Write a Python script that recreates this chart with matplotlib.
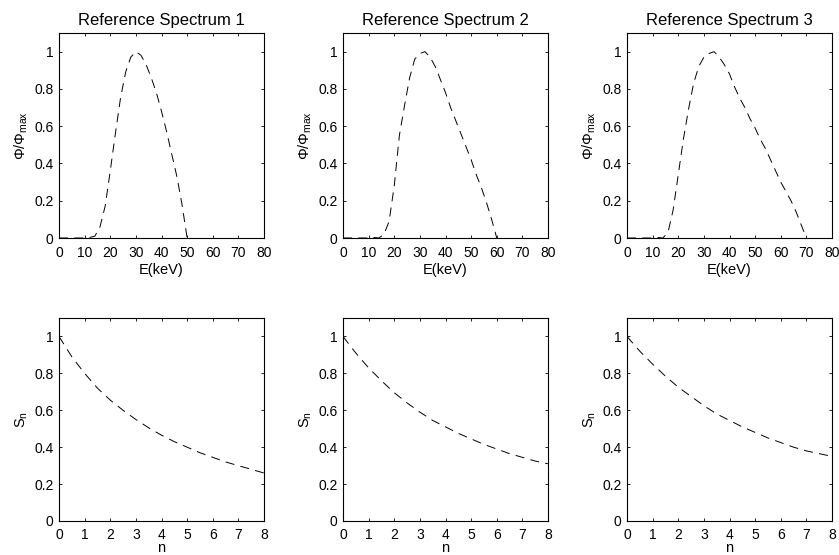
#!/usr/bin/env python3

import matplotlib
matplotlib.use('Agg')
import matplotlib.pyplot as plt
import numpy as np

plt.rcParams['font.family'] = ['Liberation Sans', 'DejaVu Sans']
plt.rcParams['mathtext.fontset'] = 'custom'
plt.rcParams['mathtext.rm'] = 'Liberation Sans'
plt.rcParams['mathtext.it'] = 'Liberation Sans'
plt.rcParams['lines.scale_dashes'] = False

titles = ['Reference Spectrum 1', 'Reference Spectrum 2', 'Reference Spectrum 3']

# spectra (E in keV, normalised flux)
energy_1 = [0, 10, 12, 14, 16, 18, 20, 22, 24, 26, 28, 30, 32, 34, 36, 38,
            40, 42, 44, 46, 48, 50]
phi_1 = [0, 0, 0.003, 0.01, 0.06, 0.17, 0.36, 0.56, 0.75, 0.89, 0.97, 1.0,
         0.98, 0.93, 0.86, 0.78, 0.68, 0.57, 0.45, 0.33, 0.18, 0.0]

energy_2 = [0, 10, 12, 14, 16, 18, 20, 22, 24, 26, 28, 30, 32, 34, 36, 38,
            40, 42, 44, 46, 48, 50, 52, 54, 56, 58, 60]
phi_2 = [0, 0, 0.003, 0.0, 0.02, 0.09, 0.28, 0.55, 0.71, 0.86, 0.96, 0.99,
         1.0, 0.97, 0.92, 0.85, 0.78, 0.70, 0.63, 0.56, 0.49, 0.42, 0.34,
         0.27, 0.19, 0.10, 0.0]

energy_3 = [0, 10, 12, 14, 16, 18, 20, 22, 24, 26, 28, 30, 32, 34, 36, 38,
            40, 42, 44, 46, 48, 50, 52, 54, 56, 58, 60, 62, 64, 66, 68, 70]
phi_3 = [0, 0, 0.003, 0.0, 0.03, 0.15, 0.34, 0.53, 0.69, 0.83, 0.92, 0.97,
         0.99, 1.0, 0.97, 0.93, 0.88, 0.81, 0.75, 0.70, 0.64, 0.59, 0.53,
         0.48, 0.42, 0.36, 0.30, 0.25, 0.20, 0.14, 0.07, 0.0]

# S_n curves
n_vals = [0, 0.5, 1, 1.5, 2, 2.5, 3, 3.5, 4, 4.5, 5, 5.5, 6, 6.5, 7, 7.5, 8]
s_1 = [1.0, 0.89, 0.80, 0.72, 0.655, 0.60, 0.55, 0.505, 0.465, 0.43, 0.40,
       0.37, 0.345, 0.32, 0.30, 0.28, 0.26]
s_2 = [1.0, 0.91, 0.83, 0.76, 0.695, 0.64, 0.59, 0.545, 0.51, 0.475, 0.445,
       0.415, 0.39, 0.365, 0.345, 0.325, 0.31]
s_3 = [1.0, 0.92, 0.85, 0.785, 0.725, 0.675, 0.625, 0.58, 0.545, 0.51, 0.48,
       0.45, 0.425, 0.40, 0.38, 0.365, 0.35]

spectra = [(energy_1, phi_1), (energy_2, phi_2), (energy_3, phi_3)]
s_curves = [s_1, s_2, s_3]

W, H = 839, 555
lefts = [59, 343, 627]
top_row = (33, 238)
bottom_row = (318, 521)
ax_w = 205
dash = (6.5, 4.5)


def style_axis(ax):
    ax.set_ylim(0, 1.1)
    ax.set_yticks([0, 0.2, 0.4, 0.6, 0.8, 1])
    ax.set_yticklabels(['0', '0.2', '0.4', '0.6', '0.8', '1'])
    ax.tick_params(direction='in', length=2.5, width=0.6, top=True,
                   right=True, labelsize=10)
    ax.tick_params(axis='y', pad=4)
    for sp in ax.spines.values():
        sp.set_linewidth(0.8)


fig = plt.figure(figsize=(W / 100, H / 100), dpi=100)

for i in range(3):
    x0 = lefts[i] / W
    # top row: spectra
    t, b = top_row
    ax = fig.add_axes([x0, (H - b) / H, ax_w / W, (b - t) / H])
    e, p = spectra[i]
    ax.plot(e, p, color='black', lw=0.7, dashes=dash)
    ax.set_xlim(0, 80)
    ax.set_xticks(np.arange(0, 81, 10))
    style_axis(ax)
    ax.tick_params(axis='x', pad=6)
    ax.set_title(titles[i], fontsize=12, pad=6)
    ax.set_xlabel('E(keV)', fontsize=10.5, labelpad=2)
    ax.set_ylabel(r'Φ/Φ$_{\mathrm{max}}$', fontsize=10.5, labelpad=3)

    # bottom row: S_n
    t, b = bottom_row
    ax = fig.add_axes([x0, (H - b) / H, ax_w / W, (b - t) / H])
    ax.plot(n_vals, s_curves[i], color='black', lw=0.7, dashes=dash)
    ax.set_xlim(0, 8)
    ax.set_xticks(range(9))
    style_axis(ax)
    ax.tick_params(axis='x', pad=5)
    ax.set_xlabel('n', fontsize=10.5, labelpad=-1)
    ax.set_ylabel(r'S$_{\mathrm{n}}$', fontsize=10.5, labelpad=3)

fig.savefig('out.png', dpi=100)
